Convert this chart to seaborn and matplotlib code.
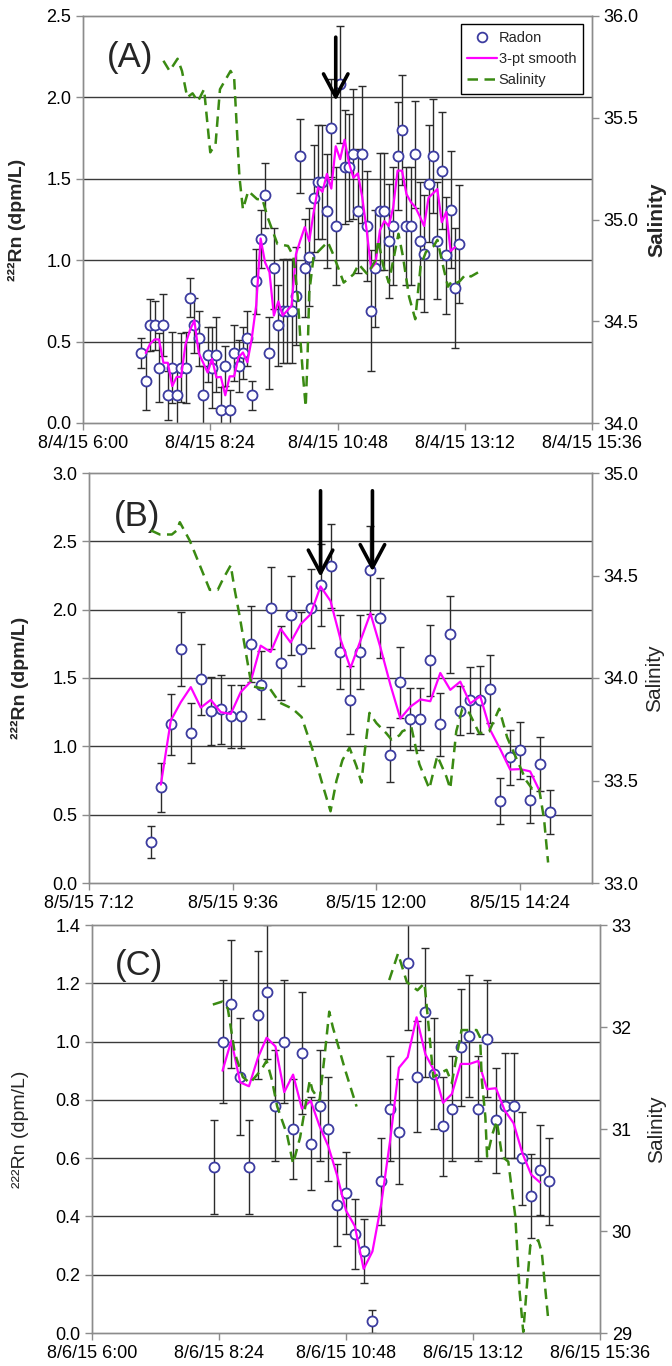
import numpy as np
import pandas as pd
import matplotlib
matplotlib.use("Agg")
import matplotlib.pyplot as plt
import matplotlib.dates as mdates
from matplotlib.lines import Line2D
from matplotlib.ticker import FixedLocator, FuncFormatter
import seaborn as sns

sns.set_style("white")
plt.rcParams['font.family'] = ['Liberation Sans', 'DejaVu Sans']

# ---------------- Panel A (8/4/15) ----------------
radon_A_time = ["07:06","07:11","07:16","07:21","07:26","07:31","07:36","07:41","07:46","07:51",
                "07:56","08:01","08:06","08:11","08:16","08:21","08:26","08:31","08:36","08:41",
                "08:46","08:51","08:56","09:01","09:06","09:11","09:16","09:21","09:26","09:31",
                "09:36","09:41","09:46","09:51","09:56","10:01","10:06","10:11","10:16","10:21",
                "10:26","10:31","10:36","10:41","10:46","10:51","10:56","11:01","11:06","11:11",
                "11:16","11:21","11:26","11:31","11:36","11:41","11:46","11:51","11:56","12:01",
                "12:06","12:11","12:16","12:21","12:26","12:31","12:36","12:41","12:46","12:51",
                "12:56","13:01","13:06"]
radon_A = [0.43,0.26,0.60,0.60,0.34,0.60,0.17,0.34,0.17,0.34,
           0.34,0.77,0.60,0.52,0.17,0.42,0.34,0.42,0.08,0.35,
           0.08,0.43,0.35,0.43,0.52,0.17,0.87,1.13,1.40,0.43,
           0.95,0.60,0.69,0.69,0.69,0.78,1.64,0.95,1.02,1.38,
           1.48,1.48,1.30,1.81,1.21,2.08,1.57,1.57,1.65,1.30,
           1.65,1.21,0.69,0.95,1.30,1.30,1.12,1.21,1.64,1.80,
           1.21,1.21,1.65,1.12,1.04,1.47,1.64,1.12,1.55,1.03,
           1.31,0.83,1.10]
radon_A_err = [0.09,0.18,0.16,0.15,0.21,0.19,0.15,0.22,0.18,0.21,
               0.22,0.12,0.17,0.17,0.18,0.17,0.25,0.23,0.14,0.12,
               0.12,0.17,0.16,0.16,0.17,0.09,0.20,0.18,0.20,0.22,
               0.25,0.25,0.32,0.32,0.32,0.30,0.23,0.30,0.30,0.33,
               0.35,0.35,0.35,0.30,0.36,0.36,0.35,0.33,0.40,0.38,
               0.42,0.34,0.37,0.36,0.36,0.36,0.35,0.36,0.33,0.34,
               0.36,0.36,0.33,0.36,0.36,0.36,0.35,0.36,0.36,0.36,
               0.36,0.37,0.36]
sal_A_time = ["07:31","07:38","07:47","07:52","07:58","08:04","08:10","08:17","08:24","08:30",
              "08:35","08:47","08:51","08:57","09:01","09:07","09:17","09:23","09:29","09:40",
              "09:52","09:58","10:03","10:06","10:09","10:12","10:14","10:16","10:21","10:37",
              "10:43","10:55","11:06","11:12","11:22","11:31","11:34","11:40","11:46","11:52",
              "11:57","12:02","12:09","12:16","12:22","12:28","12:37","12:41","12:47","12:53",
              "12:58","13:04","13:07","13:13","13:19","13:27"]
sal_A = [35.78,35.73,35.79,35.73,35.60,35.62,35.58,35.64,35.33,35.37,
         35.64,35.73,35.70,35.21,35.05,35.14,35.10,35.10,35.01,34.88,
         34.87,34.82,34.62,34.41,34.23,34.08,34.31,34.64,34.82,34.89,
         34.83,34.69,34.73,34.78,34.73,34.80,34.90,34.77,34.69,34.82,
         34.93,34.82,34.62,34.51,34.77,34.84,34.87,34.90,34.78,34.67,
         34.70,34.69,34.70,34.73,34.72,34.74]

# ---------------- Panel B (8/5/15) ----------------
radon_B_time = ["08:14","08:24","08:34","08:44","08:54","09:04","09:14","09:24","09:34","09:44",
                "09:54","10:04","10:14","10:24","10:34","10:44","10:54","11:04","11:14","11:24",
                "11:34","11:44","11:54","12:04","12:14","12:24","12:34","12:44","12:54","13:04",
                "13:14","13:24","13:34","13:44","13:54","14:04","14:14","14:24","14:34","14:44",
                "14:54"]
radon_B = [0.30,0.70,1.16,1.71,1.10,1.49,1.26,1.27,1.22,1.22,
           1.75,1.45,2.01,1.61,1.96,1.71,2.01,2.18,2.32,1.69,
           1.34,1.69,2.29,1.94,0.94,1.47,1.20,1.20,1.63,1.16,
           1.82,1.26,1.34,1.34,1.42,0.60,0.92,0.97,0.61,0.87,
           0.52]
radon_B_err = [0.12,0.18,0.22,0.27,0.22,0.26,0.25,0.25,0.23,0.23,
               0.28,0.25,0.30,0.27,0.29,0.27,0.29,0.30,0.31,0.27,
               0.25,0.27,0.32,0.29,0.20,0.26,0.23,0.23,0.26,0.23,
               0.28,0.18,0.24,0.25,0.25,0.17,0.20,0.21,0.17,0.20,
               0.16]
sal_B_time = ["08:14","08:23","08:35","08:40","08:43","08:53","09:13","09:21","09:26","09:34",
              "09:38","09:43","09:50","09:55","10:05","10:13","10:23","10:36","10:45","10:56",
              "11:06","11:14","11:20","11:26","11:33","11:40","11:45","11:48","11:53","12:00",
              "12:10","12:15","12:23","12:26","12:35","12:43","12:53","13:01","13:10","13:14",
              "13:20","13:26","13:33","13:43","13:53","14:03","14:11","14:20","14:30","14:36",
              "14:43","14:48","14:52"]
sal_B = [34.72,34.70,34.70,34.72,34.76,34.67,34.43,34.43,34.48,34.55,
         34.43,34.30,34.10,33.96,33.95,33.95,33.88,33.85,33.81,33.65,
         33.48,33.35,33.50,33.60,33.66,33.57,33.49,33.63,33.83,33.78,
         33.73,33.70,33.72,33.74,33.76,33.58,33.46,33.62,33.52,33.46,
         33.74,33.85,33.83,33.73,33.74,33.85,33.71,33.61,33.50,33.46,
         33.46,33.31,33.10]

# ---------------- Panel C (8/6/15) ----------------
radon_C_time = ["08:18","08:28","08:38","08:48","08:58","09:08","09:18","09:28","09:38","09:48",
                "09:58","10:08","10:18","10:28","10:38","10:48","10:58","11:08","11:18","11:28",
                "11:38","11:48","11:58","12:08","12:18","12:28","12:38","12:48","12:58","13:08",
                "13:18","13:28","13:38","13:48","13:58","14:08","14:18","14:28","14:38"]
radon_C = [0.57,1.00,1.13,0.88,0.57,1.09,1.17,0.78,1.00,0.70,
           0.96,0.65,0.78,0.70,0.44,0.48,0.34,0.28,0.04,0.52,
           0.77,0.69,1.27,0.88,1.10,0.89,0.71,0.77,0.98,1.02,
           0.77,1.01,0.73,0.78,0.78,0.60,0.47,0.56,0.52]
radon_C_err = [0.16,0.21,0.22,0.20,0.16,0.22,0.23,0.19,0.21,0.17,
               0.21,0.16,0.19,0.18,0.14,0.14,0.12,0.11,0.04,0.15,
               0.18,0.18,0.23,0.19,0.22,0.19,0.17,0.18,0.20,0.21,
               0.18,0.20,0.18,0.18,0.18,0.16,0.145,0.155,0.15]
sal_C_time = ["08:17","08:28","08:34","08:42","08:51","08:59","09:12","09:18","09:24","09:30",
              "09:41","09:48","09:56","10:03","10:07","10:10","10:18","10:24","10:29","10:33",
              "10:47","11:00",
              "11:37","11:47","11:57","12:09","12:17","12:21","12:27","12:42","12:48","12:54",
              "12:59","13:16","13:20","13:22","13:26","13:28","13:34","13:39","13:45","13:52",
              "14:00","14:05","14:09","14:13","14:17","14:26","14:30","14:37"]
sal_C = [32.22,32.25,32.18,31.74,31.51,31.45,31.58,31.67,31.48,31.22,
         30.95,30.66,30.92,31.28,31.48,31.38,31.28,31.74,32.15,32.00,
         31.58,31.22,
         32.46,32.72,32.44,32.36,32.43,32.07,31.51,31.58,31.45,31.74,
         31.97,31.97,31.90,31.48,31.12,30.73,30.95,31.08,30.73,30.68,
         30.14,29.39,29.01,29.45,29.86,29.91,29.79,29.16]
sal_C_segment = [0]*22 + [1]*28

# arrows (time, tail value, tip value)
arrows_A = [("10:46", 2.37, 1.98)]
arrows_B = [("11:04", 2.87, 2.24), ("11:56", 2.87, 2.28)]

# axis settings
yticks_left_A = [0.0, 0.5, 1.0, 1.5, 2.0, 2.5]
yticks_right_A = [34.0, 34.5, 35.0, 35.5, 36.0]
yticks_left_B = [0.0, 0.5, 1.0, 1.5, 2.0, 2.5, 3.0]
yticks_right_B = [33.0, 33.5, 34.0, 34.5, 35.0]
yticks_left_C = [0.0, 0.2, 0.4, 0.6, 0.8, 1.0, 1.2, 1.4]
yticks_right_C = [29, 30, 31, 32, 33]
xticks_A = ["06:00", "08:24", "10:48", "13:12", "15:36"]
xticks_B = ["07:12", "09:36", "12:00", "14:24"]
xticks_C = ["06:00", "08:24", "10:48", "13:12", "15:36"]

MAGENTA = "#ff00ff"
GREEN = "#3a8a12"
MARK = "#3c3ca0"
SPINE = "#8c8c8c"
FS_TICK = 13


def ts(day, times):
    return pd.to_datetime([f"{day} {t}" for t in times])


def fmt_date(x, pos=None):
    d = mdates.num2date(x)
    return f"{d.month}/{d.day}/{d.year % 100} {d.hour}:{d.minute:02d}"


def panel(ax, day, r_time, r_val, r_err, s_time, s_val, s_seg, xlim, xt,
          yl, ytl, yr, ytr, rfmt, label, left_bold, right_bold, label_pos,
          ylab_x, ylab2_x, arrows):
    t = ts(day, r_time)
    df = pd.DataFrame({"t": t, "radon": r_val, "err": r_err})
    df["smooth"] = df["radon"].rolling(3, center=True).mean()

    ax.errorbar(mdates.date2num(df["t"]), df["radon"], yerr=df["err"], fmt="none",
                ecolor="#2b2b2b", elinewidth=1.0, capsize=2.6, capthick=1.0, zorder=2)
    sns.scatterplot(data=df, x="t", y="radon", ax=ax, marker="o", s=52,
                    facecolor="white", edgecolor=MARK, linewidth=1.3, zorder=3)
    sns.lineplot(data=df.dropna(), x="t", y="smooth", ax=ax, color=MAGENTA,
                 linewidth=1.6, zorder=4)

    ax2 = ax.twinx()
    sdf = pd.DataFrame({"t": ts(day, s_time), "sal": s_val, "seg": s_seg})
    for seg, g in sdf.groupby("seg"):
        sns.lineplot(data=g, x="t", y="sal", ax=ax2, color=GREEN, linewidth=1.8,
                     linestyle=(0, (4.2, 2.6)))

    x0, x1 = ts(day, xlim)
    ax.set_xlim(x0, x1)
    ax.xaxis.set_major_locator(FixedLocator(mdates.date2num(ts(day, xt))))
    ax.xaxis.set_major_formatter(FuncFormatter(fmt_date))
    ax.set_ylim(yl[0], yl[1])
    ax.yaxis.set_major_locator(FixedLocator(ytl))
    ax.yaxis.set_major_formatter(FuncFormatter(lambda v, p: f"{v:.1f}"))
    ax2.set_ylim(yr[0], yr[1])
    ax2.yaxis.set_major_locator(FixedLocator(ytr))
    ax2.yaxis.set_major_formatter(FuncFormatter(lambda v, p: rfmt.format(v)))

    ax.yaxis.grid(True, color="#3a3a3a", linewidth=1.0)
    ax.xaxis.grid(False)
    ax.set_axisbelow(True)
    gl = ax.get_ygridlines()
    gl[0].set_visible(False)
    gl[-1].set_visible(False)

    for a in (ax, ax2):
        for s in a.spines.values():
            s.set_color(SPINE)
            s.set_linewidth(1.0)
        a.tick_params(axis="both", which="major", direction="out", length=5,
                      width=1, color=SPINE, labelsize=FS_TICK, labelcolor="black")
    ax.tick_params(axis="y", left=True)
    ax.tick_params(axis="x", bottom=True)
    ax2.tick_params(axis="y", right=True)

    ax.set_xlabel("")
    ax.set_ylabel("²²²Rn (dpm/L)", fontsize=14,
                  fontweight="bold" if left_bold else "normal")
    ax.yaxis.set_label_coords(ylab_x, 0.5)
    ax2.set_ylabel("Salinity", fontsize=15, rotation=90,
                   fontweight="bold" if right_bold else "normal")
    ax2.yaxis.set_label_coords(ylab2_x, 0.5)

    ax.text(label_pos[0], label_pos[1], label, transform=ax.transAxes, fontsize=25,
            ha="left", va="center")

    for at, ytail, ytip in arrows:
        xa = mdates.date2num(ts(day, [at])[0])
        ax.annotate("", xy=(xa, ytip), xytext=(xa, ytail),
                    arrowprops=dict(arrowstyle="->,head_length=0.75,head_width=0.4",
                                    color="black", lw=2.6, mutation_scale=22,
                                    shrinkA=0, shrinkB=0), zorder=6)
    return ax, ax2


fig = plt.figure(figsize=(6.72, 13.66), dpi=100)
W, H = 672, 1366


def rect(l, r, t, b):
    return [l / W, 1 - b / H, (r - l) / W, (b - t) / H]


axA = fig.add_axes(rect(83, 592, 16, 423))
axB = fig.add_axes(rect(89, 592, 473, 883))
axC = fig.add_axes(rect(92, 600, 925, 1333))

axA, axA2 = panel(axA, "2015-08-04", radon_A_time, radon_A, radon_A_err, sal_A_time, sal_A,
                  [0] * len(sal_A), ["06:00", "15:36"], xticks_A,
                  (0, 2.5), yticks_left_A, (34, 36), yticks_right_A, "{:.1f}", "(A)",
                  True, True, (0.047, 0.897), -0.112, 1.108, arrows_A)
axB, axB2 = panel(axB, "2015-08-05", radon_B_time, radon_B, radon_B_err, sal_B_time, sal_B,
                  [0] * len(sal_B), ["07:12", "15:36"], xticks_B,
                  (0, 3.0), yticks_left_B, (33, 35), yticks_right_B, "{:.1f}", "(B)",
                  True, False, (0.05, 0.893), -0.119, 1.105, arrows_B)
axC, axC2 = panel(axC, "2015-08-06", radon_C_time, radon_C, radon_C_err, sal_C_time, sal_C,
                  sal_C_segment, ["06:00", "15:36"], xticks_C,
                  (0, 1.4), yticks_left_C, (29, 33), yticks_right_C, "{:.0f}", "(C)",
                  False, False, (0.045, 0.90), -0.124, 1.093, [])

handles = [Line2D([], [], linestyle="none", marker="o", markersize=7, markerfacecolor="white",
                  markeredgecolor=MARK, markeredgewidth=1.3),
           Line2D([], [], color=MAGENTA, linewidth=1.6),
           Line2D([], [], color=GREEN, linewidth=1.8, linestyle=(0, (4.2, 2.6)))]
leg = axA2.legend(handles, ["Radon", "3-pt smooth", "Salinity"], loc="upper right",
                  bbox_to_anchor=(0.982, 0.980), fontsize=10.5, frameon=True, fancybox=False,
                  edgecolor="black", framealpha=1, borderpad=0.45, labelspacing=0.5,
                  handlelength=2.0, handletextpad=0.15, borderaxespad=0)
leg.get_frame().set_linewidth(1.0)

fig.savefig("out.png", dpi=100)
